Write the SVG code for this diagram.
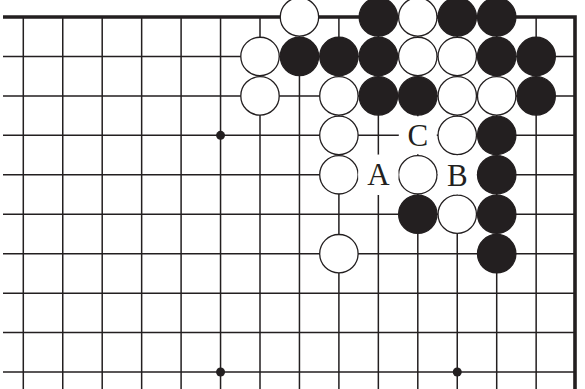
<svg xmlns="http://www.w3.org/2000/svg" width="585" height="389" viewBox="0 0 585 389">
<style>
.grid{stroke:#231f20;stroke-width:1.5;fill:none}
.edge{stroke:#231f20;stroke-width:3.6;fill:none}
.w{fill:#fff;stroke:#231f20;stroke-width:1.3}
.b{fill:#231f20;stroke:#231f20;stroke-width:1.3}
.hoshi{fill:#231f20}
.bg{fill:#fff}
.lbl{font-family:"Liberation Serif","Times New Roman",serif;font-size:31px;fill:#231f20;text-anchor:middle}
</style>
<rect width="585" height="389" fill="#fff"/>
<g id="board">
<path class="grid" d="M23.3 17V389M62.75 17V389M102.2 17V389M141.65 17V389M181.1 17V389M220.55 17V389M260 17V389M299.45 17V389M338.9 17V389M378.35 17V389M417.8 17V389M457.25 17V389M496.7 17V389M536.15 17V389M3 56.45H575M3 95.9H575M3 135.35H575M3 174.8H575M3 214.25H575M3 253.7H575M3 293.15H575M3 332.6H575M3 372.05H575"/>
<path class="edge" d="M3 17H575V389"/>
<circle class="hoshi" cx="220.55" cy="135.35" r="4.5"/>
<circle class="hoshi" cx="220.55" cy="372.05" r="4.5"/>
<circle class="hoshi" cx="457.25" cy="372.05" r="4.5"/>
</g>
<g id="stones">
<g id="w-7-0"><circle class="w" cx="299.45" cy="17" r="19.2"/></g>
<g id="b-9-0"><circle class="b" cx="378.35" cy="17" r="19.2"/></g>
<g id="w-10-0"><circle class="w" cx="417.8" cy="17" r="19.2"/></g>
<g id="b-11-0"><circle class="b" cx="457.25" cy="17" r="19.2"/></g>
<g id="b-12-0"><circle class="b" cx="496.7" cy="17" r="19.2"/></g>
<g id="w-6-1"><circle class="w" cx="260" cy="56.45" r="19.2"/></g>
<g id="b-7-1"><circle class="b" cx="299.45" cy="56.45" r="19.2"/></g>
<g id="b-8-1"><circle class="b" cx="338.9" cy="56.45" r="19.2"/></g>
<g id="b-9-1"><circle class="b" cx="378.35" cy="56.45" r="19.2"/></g>
<g id="w-10-1"><circle class="w" cx="417.8" cy="56.45" r="19.2"/></g>
<g id="w-11-1"><circle class="w" cx="457.25" cy="56.45" r="19.2"/></g>
<g id="b-12-1"><circle class="b" cx="496.7" cy="56.45" r="19.2"/></g>
<g id="b-13-1"><circle class="b" cx="536.15" cy="56.45" r="19.2"/></g>
<g id="w-6-2"><circle class="w" cx="260" cy="95.9" r="19.2"/></g>
<g id="w-8-2"><circle class="w" cx="338.9" cy="95.9" r="19.2"/></g>
<g id="b-9-2"><circle class="b" cx="378.35" cy="95.9" r="19.2"/></g>
<g id="b-10-2"><circle class="b" cx="417.8" cy="95.9" r="19.2"/></g>
<g id="w-11-2"><circle class="w" cx="457.25" cy="95.9" r="19.2"/></g>
<g id="w-12-2"><circle class="w" cx="496.7" cy="95.9" r="19.2"/></g>
<g id="b-13-2"><circle class="b" cx="536.15" cy="95.9" r="19.2"/></g>
<g id="w-8-3"><circle class="w" cx="338.9" cy="135.35" r="19.2"/></g>
<g id="w-11-3"><circle class="w" cx="457.25" cy="135.35" r="19.2"/></g>
<g id="b-12-3"><circle class="b" cx="496.7" cy="135.35" r="19.2"/></g>
<g id="w-8-4"><circle class="w" cx="338.9" cy="174.8" r="19.2"/></g>
<g id="w-10-4"><circle class="w" cx="417.8" cy="174.8" r="19.2"/></g>
<g id="b-12-4"><circle class="b" cx="496.7" cy="174.8" r="19.2"/></g>
<g id="b-10-5"><circle class="b" cx="417.8" cy="214.25" r="19.2"/></g>
<g id="w-11-5"><circle class="w" cx="457.25" cy="214.25" r="19.2"/></g>
<g id="b-12-5"><circle class="b" cx="496.7" cy="214.25" r="19.2"/></g>
<g id="w-8-6"><circle class="w" cx="338.9" cy="253.7" r="19.2"/></g>
<g id="b-12-6"><circle class="b" cx="496.7" cy="253.7" r="19.2"/></g>
</g>
<g id="labels">
<g id="label-C"><circle class="bg" cx="417.8" cy="135.35" r="19"/><text class="lbl" x="417.8" y="145.6">C</text></g>
<g id="label-A"><circle class="bg" cx="378.35" cy="174.8" r="20.3"/><text class="lbl" x="378.35" y="185.3">A</text></g>
<g id="label-B"><circle class="bg" cx="457.25" cy="174.8" r="19.6"/><text class="lbl" x="457.25" y="185.5">B</text></g>
</g>
</svg>
